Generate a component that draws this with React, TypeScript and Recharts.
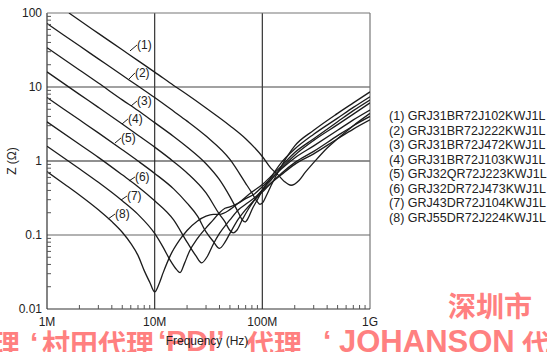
import React from 'react';
import { LineChart, Line, XAxis, YAxis, ReferenceLine, ReferenceDot } from 'recharts';

// frequency in MHz, impedance in ohm
const F1 = [1.6, 2, 3, 5, 7, 10, 15, 20, 30, 50, 70, 100, 120, 140, 160, 185, 220, 250, 300, 400, 500, 700, 1000];
const Z1 = [100, 79.6, 53, 31.8, 22.7, 15.9, 10.5, 7.9, 5.2, 3.0, 2.0, 1.15, 0.8, 0.65, 0.53, 0.47, 0.55, 0.7, 0.95, 1.5, 2.0, 3.0, 4.4];

const F2 = [1, 2, 3, 5, 7, 10, 15, 20, 30, 50, 70, 80, 90, 95, 100, 110, 120, 150, 200, 300, 500, 700, 1000];
const Z2 = [72, 36, 24, 14.4, 10.3, 7.2, 4.7, 3.46, 2.17, 1.05, 0.5, 0.37, 0.28, 0.26, 0.27, 0.35, 0.46, 0.85, 1.6, 2.6, 4.4, 6.1, 8.6];

const F3 = [1, 2, 3, 5, 7, 10, 15, 20, 30, 40, 50, 60, 65, 69, 74, 80, 90, 100, 120, 150, 200, 300, 500, 700, 1000];
const Z3 = [34, 17, 11.3, 6.7, 4.8, 3.3, 2.15, 1.55, 0.92, 0.56, 0.33, 0.2, 0.16, 0.15, 0.17, 0.22, 0.3, 0.4, 0.6, 0.95, 1.45, 2.3, 3.8, 5.3, 7.4];

const F4 = [1, 2, 3, 5, 7, 10, 15, 20, 30, 40, 45, 50, 53.7, 58, 65, 75, 85, 100, 120, 150, 200, 300, 500, 700, 1000];
const Z4 = [16, 7.95, 5.3, 3.16, 2.23, 1.54, 0.98, 0.69, 0.37, 0.19, 0.15, 0.115, 0.107, 0.116, 0.16, 0.23, 0.3, 0.41, 0.55, 0.8, 1.2, 1.9, 3.1, 4.3, 6.1];

const F5 = [1, 2, 3, 5, 7, 10, 15, 20, 25, 30, 35, 40, 45, 50, 60, 70, 85, 100, 120, 150, 200, 300, 500, 700, 1000];
const Z5 = [7.2, 3.6, 2.4, 1.42, 1.0, 0.68, 0.42, 0.27, 0.18, 0.11, 0.082, 0.066, 0.08, 0.105, 0.165, 0.22, 0.3, 0.38, 0.5, 0.68, 0.95, 1.35, 2.2, 3.0, 4.0];

const F6 = [1, 2, 3, 5, 7, 10, 15, 20, 24, 27.3, 31, 35, 40, 50, 60, 70, 85, 100, 120, 150, 200, 300, 500, 700, 1000];
const Z6 = [3.38, 1.68, 1.12, 0.65, 0.45, 0.29, 0.16, 0.08, 0.053, 0.042, 0.052, 0.075, 0.105, 0.16, 0.22, 0.26, 0.32, 0.4, 0.5, 0.65, 0.9, 1.25, 2.0, 2.7, 3.6];

const F7 = [1, 2, 3, 5, 7, 10, 12, 14, 16, 17.2, 19, 21, 25, 30, 35, 40, 45, 50, 60, 70, 85, 100, 120, 150, 200, 300, 500, 700, 1000];
const Z7 = [1.585, 0.785, 0.515, 0.29, 0.19, 0.105, 0.068, 0.045, 0.034, 0.031, 0.042, 0.06, 0.09, 0.125, 0.16, 0.2, 0.23, 0.24, 0.27, 0.31, 0.36, 0.45, 0.58, 0.78, 1.1, 1.6, 2.6, 3.6, 4.9];

const F8 = [1, 1.5, 2, 3, 4, 5, 6, 7, 8, 9, 10, 11, 12, 14, 17, 20, 25, 30, 35, 40, 50, 60, 80, 100, 120, 150, 200, 300, 500, 700, 1000];
const Z8 = [0.716, 0.471, 0.347, 0.219, 0.152, 0.109, 0.077, 0.053, 0.033, 0.023, 0.017, 0.022, 0.031, 0.053, 0.085, 0.115, 0.155, 0.18, 0.19, 0.19, 0.22, 0.27, 0.38, 0.48, 0.62, 0.85, 1.3, 2.0, 3.4, 4.8, 6.7];

const CURVES = [
  [F1, Z1], [F2, Z2], [F3, Z3], [F4, Z4],
  [F5, Z5], [F6, Z6], [F7, Z7], [F8, Z8],
].map(([f, z]) => f.map((v, i) => ({ f: v, z: z[i] })));

const PART_NUMBERS = [
  'GRJ31BR72J102KWJ1L',
  'GRJ31BR72J222KWJ1L',
  'GRJ31BR72J472KWJ1L',
  'GRJ31BR72J103KWJ1L',
  'GRJ32QR72J223KWJ1L',
  'GRJ32DR72J473KWJ1L',
  'GRJ43DR72J104KWJ1L',
  'GRJ55DR72J224KWJ1L',
];

// leader line for each curve tag: start on curve -> end at tag [f, z]
const TAG_FROM = [[5.9, 30.7], [5.77, 12.8], [6.03, 5.54], [4.97, 3.16], [4.28, 1.75], [5.77, 0.537], [4.87, 0.297], [3.68, 0.164]];
const TAG_TO = [[6.85, 36.9], [6.56, 15.5], [6.85, 6.47], [5.65, 3.7], [4.87, 2.05], [6.56, 0.608], [5.53, 0.336], [4.28, 0.192]];

const X_MAJOR = [1, 10, 100, 1000];
const X_LABELS = ['1M', '10M', '100M', '1G'];
const Y_MAJOR = [0.01, 0.1, 1, 10, 100];
const Y_LABELS = ['0.01', '0.1', '1', '10', '100'];

const MANT = [1, 2, 3, 4, 5, 6, 7, 8, 9];
const X_TICKS = [...[1, 10, 100].flatMap(d => MANT.map(m => +(m * d).toPrecision(3))), 1000];
const Y_TICKS = [...[0.01, 0.1, 1, 10].flatMap(d => MANT.map(m => +(m * d).toPrecision(3))), 100];

const FONT = '"Liberation Sans", Arial, Helvetica, sans-serif';
const CJK = '"Noto Sans CJK SC", sans-serif';
const INK = '#1c1c1c';
const GRID = '#555';
const PINK = '#ff8080';

const XTick = (props: any) => {
  const { x, y, payload } = props;
  const i = X_MAJOR.indexOf(payload.value);
  if (i >= 0) {
    return (
      <text x={x} y={y + 17} textAnchor="middle" fontSize={12} fill="#222" fontFamily={FONT}>
        {X_LABELS[i]}
      </text>
    );
  }
  return <line x1={x} y1={y} x2={x} y2={y - 4} stroke={GRID} strokeWidth={1} />;
};

const YTick = (props: any) => {
  const { x, y, payload } = props;
  const i = Y_MAJOR.indexOf(payload.value);
  if (i >= 0) {
    return (
      <text x={x - 5} y={y + 4} textAnchor="end" fontSize={12} fill="#222" fontFamily={FONT}>
        {Y_LABELS[i]}
      </text>
    );
  }
  return <line x1={x} y1={y} x2={x + 4} y2={y} stroke={GRID} strokeWidth={1} />;
};

const wm = (left: number, top: number, size: number, text: string, family = CJK) => (
  <div style={{ position: 'absolute', left, top, fontSize: size, lineHeight: `${size}px`, fontWeight: 700, color: PINK, fontFamily: family, whiteSpace: 'nowrap' }}>
    {text}
  </div>
);

export default function App() {
  return (
    <div style={{ position: 'absolute', left: 0, top: 0, width: 547, height: 352, overflow: 'hidden', background: '#fff', fontFamily: FONT }}>
      {/* watermark behind the chart */}
      {wm(448, 291, 28, '深圳市')}
      {wm(-8, 329, 28, '理')}
      {wm(30, 328, 30, '‘', FONT)}
      {wm(42, 329, 28, '村田代理')}
      {wm(158, 326, 30, '‘PDI’', FONT)}
      {wm(246, 329, 28, '代理')}
      {wm(323, 326, 30, '‘', FONT)}
      {wm(339, 326, 31, 'JOHANSON', FONT)}
      {wm(522, 329, 28, '代')}

      <div style={{ position: 'absolute', left: 0, top: 0, zIndex: 1 }}>
        <LineChart width={547} height={352} margin={{ top: 13, right: 177, bottom: 0, left: 0 }}>
          <XAxis
            dataKey="f"
            type="number"
            scale="log"
            domain={[1, 1000]}
            allowDataOverflow
            ticks={X_TICKS}
            interval={0}
            tick={XTick}
            tickLine={false}
            axisLine={false}
            tickSize={0}
            tickMargin={0}
            height={43}
          />
          <YAxis
            dataKey="z"
            type="number"
            scale="log"
            domain={[0.01, 100]}
            allowDataOverflow
            ticks={Y_TICKS}
            interval={0}
            tick={YTick}
            tickLine={false}
            axisLine={false}
            tickSize={0}
            tickMargin={0}
            width={47}
          />
          {[10, 100].map(v => (
            <ReferenceLine key={'vx' + v} x={v} stroke="#333" strokeWidth={1.2} />
          ))}
          <ReferenceLine y={10} stroke="#444" strokeWidth={1.2} />
          <ReferenceLine y={1} stroke="#222" strokeWidth={1.2} />
          <ReferenceLine y={0.1} stroke="#666" strokeWidth={1.2} />
          <ReferenceLine x={1} stroke="#333" strokeWidth={1.2} />
          <ReferenceLine x={1000} stroke="#777" strokeWidth={1.2} />
          <ReferenceLine y={100} stroke="#777" strokeWidth={1.2} />
          <ReferenceLine y={0.01} stroke="#333" strokeWidth={1.2} />

          {CURVES.map((d, i) => (
            <Line
              key={i}
              data={d}
              dataKey="z"
              type="monotone"
              stroke={INK}
              strokeWidth={1.3}
              dot={false}
              activeDot={false}
              isAnimationActive={false}
            />
          ))}

          {TAG_FROM.map((p, i) => (
            <ReferenceLine
              key={'lead' + i}
              segment={[{ x: p[0], y: p[1] }, { x: TAG_TO[i][0], y: TAG_TO[i][1] }]}
              stroke={INK}
              strokeWidth={1}
            />
          ))}
          {TAG_TO.map((p, i) => (
            <ReferenceDot
              key={'tag' + i}
              x={p[0]}
              y={p[1]}
              r={0}
              stroke="none"
              fill="none"
              label={{ value: `(${i + 1})`, position: 'right', offset: 0, fontSize: 12, fill: '#222', fontFamily: FONT }}
            />
          ))}
        </LineChart>
      </div>

      {/* axis titles */}
      <div style={{ position: 'absolute', zIndex: 2, left: 207, top: 341, transform: 'translate(-50%, -50%)', fontSize: 12, color: '#222', whiteSpace: 'nowrap' }}>
        Frequency (Hz)
      </div>
      <div style={{ position: 'absolute', zIndex: 2, left: 12, top: 161, transform: 'translate(-50%, -50%) rotate(-90deg)', fontSize: 12, color: '#222', whiteSpace: 'nowrap' }}>
        Z (Ω)
      </div>

      {/* legend */}
      <div style={{ position: 'absolute', zIndex: 2, left: 389, top: 109, fontSize: 12.5, lineHeight: '14.5px', color: '#222', whiteSpace: 'nowrap' }}>
        {PART_NUMBERS.map((p, i) => (
          <div key={p}>({i + 1}) {p}</div>
        ))}
      </div>
    </div>
  );
}
